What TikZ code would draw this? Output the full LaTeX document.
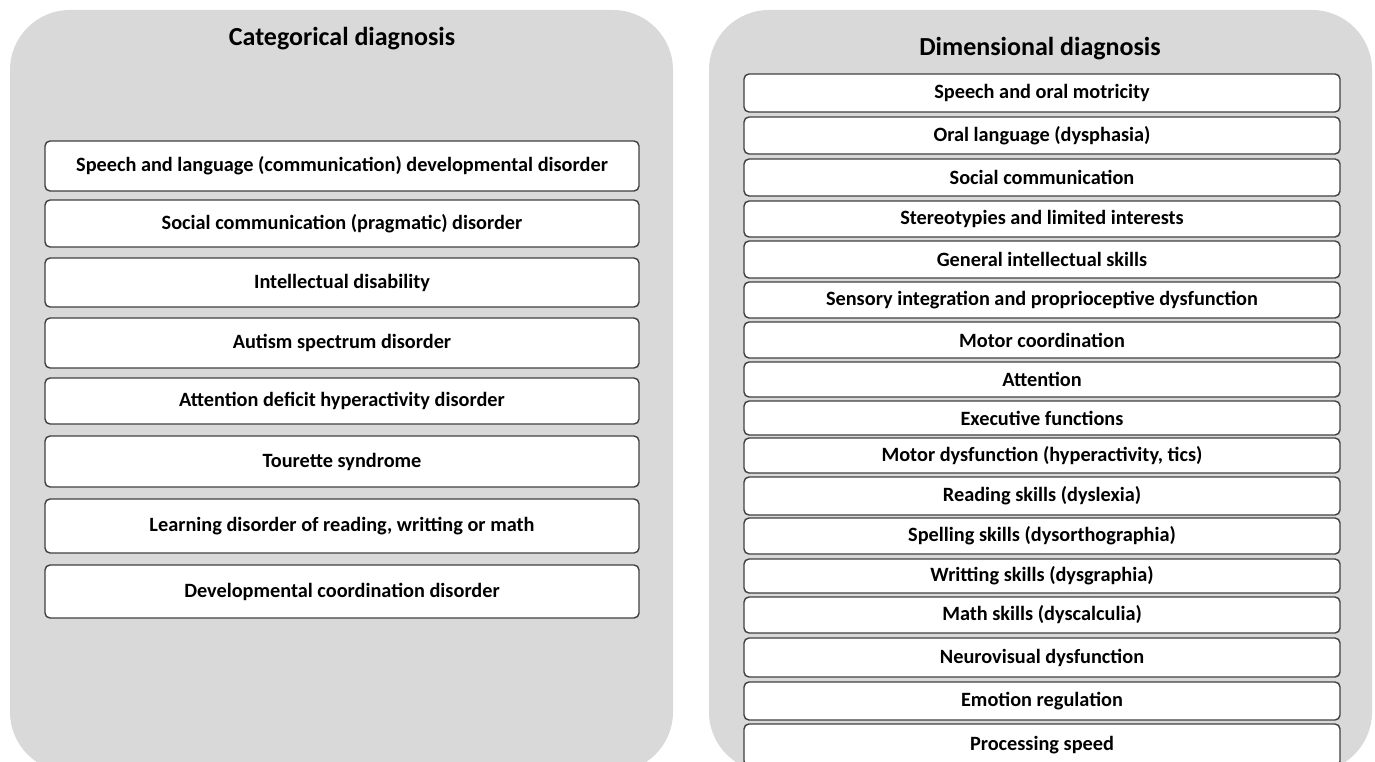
\documentclass[tikz,border=0pt]{standalone}
\usepackage{fontspec}
\setmainfont{Carlito}
\definecolor{panelgray}{HTML}{D9D9D9}
\definecolor{boxline}{HTML}{404040}
\tikzset{
  itembox/.style={draw=boxline, line width=1.4pt, fill=white, rounded corners=5pt,
    inner sep=0pt, anchor=center, font=\fontsize{20.3}{23}\selectfont\bfseries},
  titletext/.style={font=\fontsize{26}{30}\selectfont\bfseries, inner sep=0pt}
}
\begin{document}
\begin{tikzpicture}[x=1pt,y=-1pt]
\useasboundingbox (0,0) rectangle (1375,762);
\fill[panelgray, rounded corners=60pt] (10,10) rectangle (673,772);
\fill[panelgray, rounded corners=60pt] (709,10) rectangle (1372,772);
\node[titletext] (lt) at (342,39) {Categorical diagnosis};
\node[titletext] (rt) at (1040,49) {Dimensional diagnosis};
\foreach \cy/\h/\t [count=\i] in {
  166/50/{Speech and language (communication) developmental disorder},
  223.5/47/{Social communication (pragmatic) disorder},
  282.5/49/{Intellectual disability},
  343/50/{Autism spectrum disorder},
  401/46/{Attention deficit hyperactivity disorder},
  461.5/51/{Tourette syndrome},
  526/54/{Learning disorder of reading, writting or math},
  591.5/53/{Developmental coordination disorder}}
{
  \node[itembox, minimum width=594pt, minimum height=\h pt] (l\i) at (342,\cy) {\t};
}
\foreach \cy/\h/\t [count=\i] in {
  93/38/{Speech and oral motricity},
  135.5/37/{Oral language (dysphasia)},
  177.5/37/{Social communication},
  219/36/{Stereotypies and limited interests},
  259.5/37/{General intellectual skills},
  300/36/{Sensory integration and proprioceptive dysfunction},
  340/36/{Motor coordination},
  379.5/35/{Attention},
  418/34/{Executive functions},
  455.5/35/{Motor dysfunction (hyperactivity, tics)},
  496/38/{Reading skills (dyslexia)},
  536/36/{Spelling skills (dysorthographia)},
  576/34/{Writting skills (dysgraphia)},
  615/36/{Math skills (dyscalculia)},
  657.5/39/{Neurovisual dysfunction},
  701/38/{Emotion regulation},
  745/42/{Processing speed}}
{
  \node[itembox, minimum width=596pt, minimum height=\h pt] (r\i) at (1042,\cy) {\t};
}
\end{tikzpicture}
\end{document}
